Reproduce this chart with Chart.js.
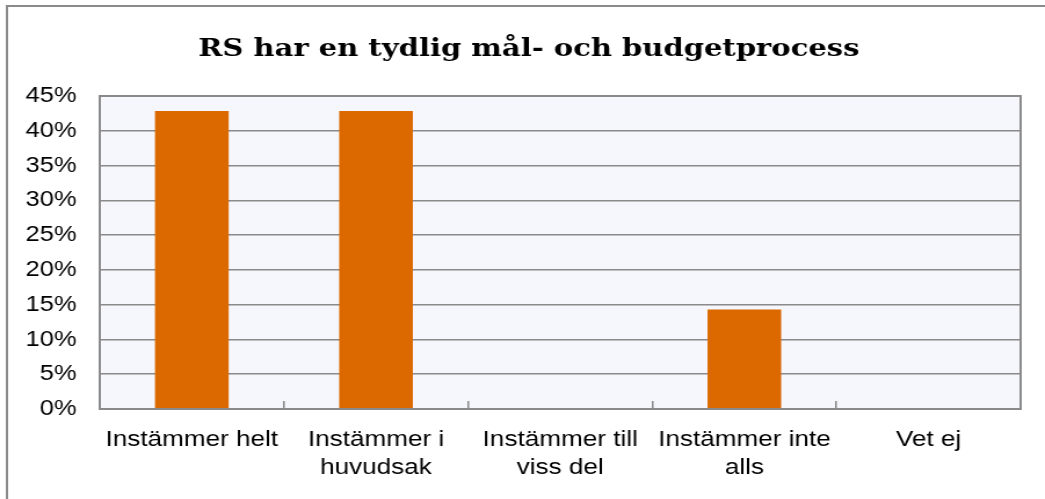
<!DOCTYPE html>
<html>
<head>
<meta charset="utf-8">
<script src="https://cdn.jsdelivr.net/npm/chart.js@4.4.1/dist/chart.umd.min.js"></script>
<style>
  body { margin: 0; background: #fff; overflow: hidden; }
  /* the original image is stretched sideways, so the chart is drawn narrower and widened */
  #wrap { width: 901px; height: 499px; transform: scaleX(1.1598); transform-origin: 0 0; }
</style>
</head>
<body>
<div id="wrap"><canvas id="chart" width="901" height="499"></canvas></div>
<script>
const categories = [
  ['Instämmer helt'],
  ['Instämmer i', 'huvudsak'],
  ['Instämmer till', 'viss del'],
  ['Instämmer inte', 'alls'],
  ['Vet ej']
];
const shares = [42.86, 42.86, 0, 14.29, 0];
const yMax = 45;
const yStep = 5;
const chartTitle = 'RS har en tydlig mål- och budgetprocess';

const lineGrey = '#8a8a8a';

// plot background, outer frame, title and plot border
const frame = {
  id: 'frame',
  beforeDraw(chart) {
    const { ctx, chartArea: a } = chart;
    ctx.save();
    ctx.fillStyle = '#f6f7fd';
    ctx.fillRect(a.left, a.top, a.width, a.height);
    ctx.strokeStyle = lineGrey;
    ctx.lineWidth = 2;
    ctx.beginPath();
    ctx.moveTo(6, chart.height + 2);
    ctx.lineTo(6, 6);
    ctx.lineTo(chart.width + 2, 6);
    ctx.stroke();
    // title sits a bit right of the chart centre in the original
    ctx.fillStyle = '#000';
    ctx.font = 'bold 25px "DejaVu Serif"';
    ctx.textAlign = 'center';
    ctx.textBaseline = 'middle';
    ctx.fillText(chartTitle, 456, 49);
    ctx.restore();
  },
  afterDraw(chart) {
    const { ctx, chartArea: a } = chart;
    ctx.save();
    ctx.strokeStyle = lineGrey;
    ctx.lineWidth = 2;
    ctx.strokeRect(a.left, a.top, a.width, a.height);
    ctx.restore();
  }
};

new Chart(document.getElementById('chart'), {
  type: 'bar',
  data: {
    labels: categories,
    datasets: [{
      data: shares,
      backgroundColor: '#dc6900',
      borderWidth: 0,
      barPercentage: 0.4,
      categoryPercentage: 1
    }]
  },
  options: {
    responsive: false,
    animation: false,
    layout: { padding: { left: 0, right: 21, top: 96, bottom: 0 } },
    plugins: {
      legend: { display: false },
      tooltip: { enabled: false },
      title: { display: false }
    },
    scales: {
      x: {
        border: { display: false },
        grid: {
          offset: true,
          drawOnChartArea: false,
          drawTicks: true,
          tickLength: -8,
          color: lineGrey,
          lineWidth: 1.5
        },
        ticks: {
          color: '#000',
          maxRotation: 0,
          autoSkip: false,
          padding: 25,
          font: { family: 'Liberation Sans', size: 22.5, lineHeight: 1.25 }
        },
        afterFit(scale) { scale.height = 90; }
      },
      y: {
        min: 0,
        max: yMax,
        border: { display: false },
        grid: { color: lineGrey, lineWidth: 1.5, drawTicks: false },
        ticks: {
          stepSize: yStep,
          color: '#000',
          padding: 20,
          font: { family: 'Liberation Sans', size: 22 },
          callback: v => v + '%'
        },
        afterFit(scale) { scale.width = 86; }
      }
    }
  },
  plugins: [frame]
});
</script>
</body>
</html>
